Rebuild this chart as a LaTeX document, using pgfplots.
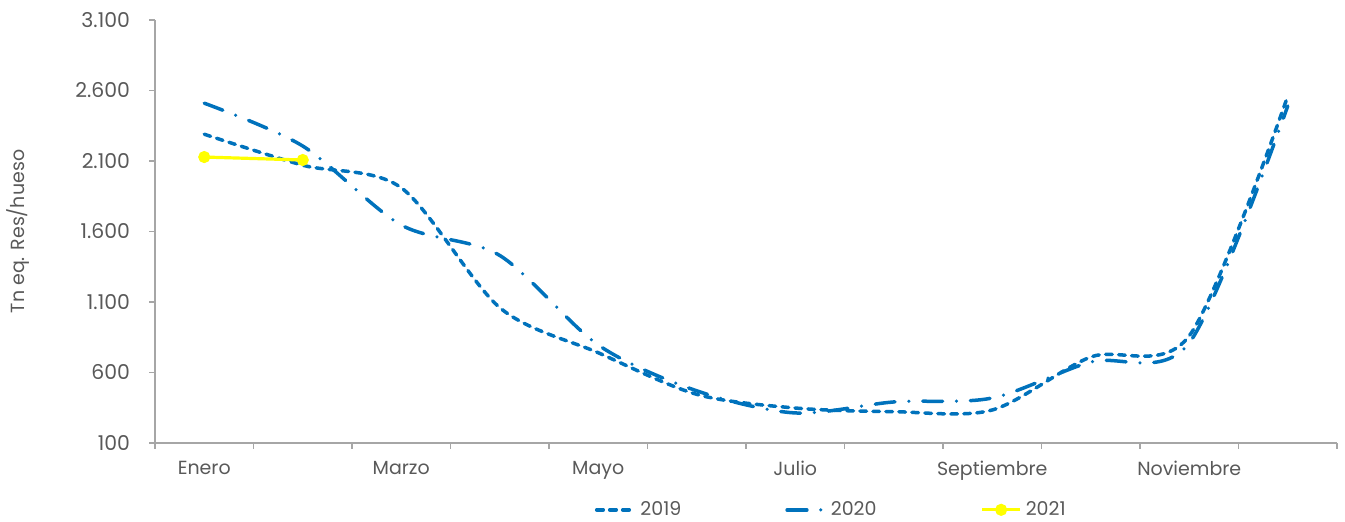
\documentclass[border=0pt]{standalone}
\usepackage{fontspec}
\setmainfont{Poppins}
\usepackage{pgfplots}
\pgfplotsset{compat=1.18}
\definecolor{serie}{HTML}{0072BC}
\definecolor{amarillo}{HTML}{FFFF00}
\definecolor{ejes}{HTML}{A6A6A6}
\definecolor{texto}{HTML}{595959}

\begin{document}
\begin{tikzpicture}
\path[use as bounding box] (0,0) rectangle (672.5pt,261pt);
\begin{axis}[
    at={(77.5pt,39.5pt)}, anchor=south west,
    scale only axis,
    width=591pt, height=211.5pt,
    xmin=0, xmax=12,
    ymin=100, ymax=3100,
    axis lines=left,
    axis line style={-, draw=ejes, line width=0.6pt},
    tick align=outside,
    tick style={draw=ejes, line width=0.6pt},
    major tick length=3pt,
    minor tick length=3pt,
    xtick={0.5,2.5,4.5,6.5,8.5,10.5},
    xticklabels={Enero,Marzo,Mayo,Julio,Septiembre,Noviembre},
    major x tick style={draw=none},
    minor xtick={0,1,...,12},
    ticklabel style={font=\fontsize{9.5}{11}\selectfont, text=texto},
    xticklabel style={yshift=-2.5pt},
    ytick={100,600,1100,1600,2100,2600,3100},
    yticklabel style={xshift=-6pt, font=\fontsize{10.2}{12}\selectfont,
        /pgf/number format/.cd, 1000 sep={.}, fixed, assume math mode=true},
    ylabel={Tn eq. Res/hueso},
    every axis y label/.style={at={(rel axis cs:0,0.5)}, rotate=90, anchor=center,
        yshift=68.5pt, font=\fontsize{9.5}{11}\selectfont, text=texto},
    legend columns=3,
    legend style={at={(0.573,-0.158)}, anchor=center, draw=none, fill=none,
        font=\fontsize{9.5}{11}\selectfont, text=texto,
        /tikz/every even column/.append style={column sep=50pt}},
    legend image code/.code={\draw[mark repeat=2,mark phase=2,#1] plot coordinates {(0pt,0pt) (9.5pt,0pt) (19pt,0pt)};},
    clip=false,
]
\addplot[serie, line width=1.75pt, line cap=round, dash pattern=on 3.3pt off 3.2pt, smooth] coordinates {
    (0.5,2290) (1.5,2070) (2.5,1910) (3.5,1060) (4.5,740) (5.5,445)
    (6.5,348) (7.5,322) (8.5,334) (9.5,710) (10.5,860) (11.5,2560)
};
\addlegendentry{2019}
\addplot[serie, line width=1.75pt, line cap=round, dash pattern=on 9.9pt off 6.95pt on 0pt off 6.95pt, smooth] coordinates {
    (0.5,2510) (1.5,2206) (2.5,1646) (3.5,1430) (4.5,795) (5.5,470)
    (6.5,313) (7.5,391) (8.5,419) (9.5,675) (10.5,810) (11.5,2490)
};
\addlegendentry{2020}
\addplot[amarillo, line width=1.6pt, mark=*, mark size=2.2pt, mark options={fill=amarillo, draw=amarillo}] coordinates {
    (0.5,2128) (1.5,2107)
};
\addlegendentry{2021}
\end{axis}
\end{tikzpicture}
\end{document}
